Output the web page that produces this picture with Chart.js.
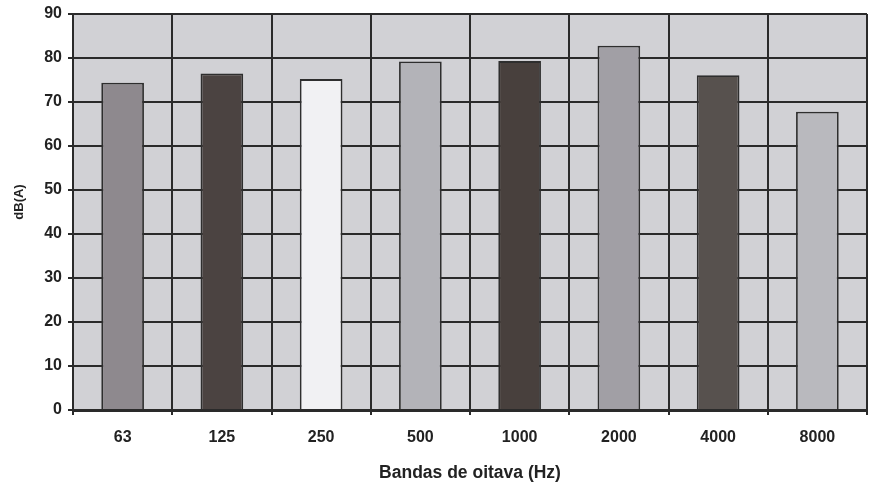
<!DOCTYPE html>
<html>
<head>
<meta charset="utf-8">
<script src="https://cdn.jsdelivr.net/npm/chart.js@4"></script>
<style>
  html, body { margin: 0; padding: 0; background: #ffffff; }
  #wrap { width: 873px; height: 488px; }
</style>
</head>
<body>
<div id="wrap"><canvas id="c" width="873" height="488"></canvas></div>
<script>
// Octave bands and measured levels
const bands = ['63', '125', '250', '500', '1000', '2000', '4000', '8000'];
const levels = [74.4, 76.5, 75.2, 79.2, 79.3, 82.8, 76.1, 67.8];
const barColors = ['#8e898e', '#4b4341', '#f1f1f3', '#b3b3b8', '#48403d', '#a19fa5', '#57514e', '#b9b9be'];
const yTitle = 'dB(A)';
const xTitle = 'Bandas de oitava (Hz)';

const FONT = '"Liberation Sans", Arial, sans-serif';
const INK = '#2a2a2a';

// grey fill behind the plot area
const plotBg = {
  id: 'plotBg',
  beforeDraw(chart) {
    const { ctx, chartArea: a } = chart;
    ctx.save();
    ctx.fillStyle = '#d1d1d5';
    ctx.fillRect(a.left, a.top, a.right - a.left, a.bottom - a.top);
    ctx.restore();
  }
};

// rotated y-axis title, set a little above the middle of the axis
const yTitlePlugin = {
  id: 'yTitlePlugin',
  afterDraw(chart) {
    const { ctx, chartArea: a } = chart;
    ctx.save();
    ctx.translate(19, (a.top + a.bottom) / 2 - 10);
    ctx.rotate(-Math.PI / 2);
    ctx.fillStyle = '#222';
    ctx.font = 'bold 13px ' + FONT;
    ctx.textAlign = 'center';
    ctx.textBaseline = 'middle';
    ctx.fillText(yTitle, 0, 0);
    ctx.restore();
  }
};

new Chart(document.getElementById('c'), {
  type: 'bar',
  data: {
    labels: bands,
    datasets: [{
      data: levels,
      backgroundColor: barColors,
      borderColor: '#2e2e2e',
      borderWidth: 1.8,
      categoryPercentage: 1,
      barPercentage: 0.43
    }]
  },
  options: {
    responsive: false,
    animation: false,
    layout: { padding: { left: 0, top: 14, right: 6, bottom: 0 } },
    plugins: { legend: { display: false }, tooltip: { enabled: false } },
    scales: {
      x: {
        grid: { offset: true, color: INK, lineWidth: 2, drawTicks: true, tickLength: 5, tickColor: INK },
        border: { color: INK, width: 3 },
        ticks: { color: '#222', font: { family: FONT, size: 16, weight: 'bold' }, padding: 13 },
        title: { display: true, text: xTitle, color: '#222', font: { family: FONT, size: 17.5, weight: 'bold' }, padding: { top: 9 } },
        afterFit(s) { s.height = 78; }
      },
      y: {
        min: 0, max: 90,
        ticks: { stepSize: 10, color: '#222', font: { family: FONT, size: 16, weight: 'bold' }, padding: 6 },
        grid: { color: INK, lineWidth: 2, tickLength: 5, tickColor: INK },
        border: { color: INK, width: 2 },
        afterFit(s) { s.width = 73; s.paddingTop = 0; s.paddingBottom = 0; }
      }
    }
  },
  plugins: [plotBg, yTitlePlugin]
});
</script>
</body>
</html>
